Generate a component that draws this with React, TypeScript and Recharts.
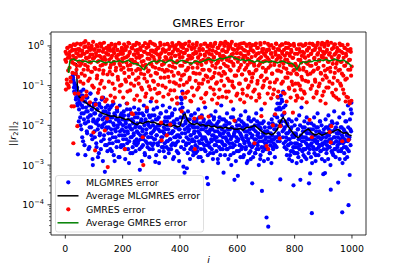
import React from "react";
import { ComposedChart, Scatter, XAxis, YAxis, ReferenceLine } from "recharts";

const W = 407;
const H = 271;

// log10 of the MLGMRES residual norm; even iterations (i = 2k) and odd iterations (i = 2k + 1)
const MLGMRES_EVEN: (number | null)[] = [
  null, null, null, null, null, null, null, null, null, null, null, null, null, -0.75, -0.85, -1.05, -0.95, -1.2, -1.0, -1.3, -1.1, -1.45, -2.73, -1.25, -1.6,
  -1.35, -1.8, -1.15, -2.1, -1.5, -1.25, -2.4, -1.7, -1.4, -1.95, -2.75, -1.55, -1.3, -2.2, -1.65, -1.9, -1.45, -2.55, -1.75, -1.2, -2.05, -1.6, -2.35, -3.0, -1.85,
  -1.5, -2.15, -1.7, -1.35, -2.45, -1.9, -1.6, -2.8, -2.0, -1.45, -2.25, -1.75, -2.6, -1.55, -2.05, -1.85, -1.3, -2.35, -1.95, -3.17, -1.65, -2.1, -2.5, -1.8, -1.5,
  -2.2, -1.7, -2.45, -1.9, -1.55, -2.1, -2.65, -1.8, -2.3, -1.45, -2.0, -2.9, -1.75, -2.15, -2.4, -1.6, -2.05, -1.85, -2.8, -2.25, -1.5, -1.95, -2.55, -1.7, -2.1,
  -1.8, -2.35, -1.65, -2.15, -2.6, -1.9, -2.05, -1.45, -2.45, -2.2, -1.75, -2.95, -2.0, -1.6, -2.3, -2.1, -1.85, -2.7, -1.95, -2.25, -1.55, -2.4, -2.05, -1.7, -2.5,
  -2.15, -1.8, -2.4, -1.6, -2.05, -3.12, -2.25, -1.9, -2.55, -1.7, -2.1, -2.35, -1.5, -2.0, -2.75, -1.85, -2.2, -1.65, -2.45, -1.95, -2.3, -1.75, -2.6, -2.05, -1.4,
  -2.2, -1.75, -2.5, -2.0, -1.6, -2.35, -2.1, -2.92, -1.85, -2.25, -1.55, -2.45, -2.0, -1.8, -2.65, -2.15, -1.7, -2.4, -1.95, -2.3, -1.5, -2.55, -2.05, -1.9, -2.8,
  -2.1, -1.65, -2.4, -2.0, -1.8, -2.6, -2.2, -1.55, -2.35, -1.95, -2.5, -1.75, -2.15, -2.85, -1.9, -2.3, -1.6, -2.05, -2.45, -1.85, -2.25, -1.45, -2.7, -2.1, -1.95,
  -2.3, -1.8, -2.55, -1.35, -1.15, -2.0, -3.04, -1.7, -3.19, -2.2, -1.9, -2.45, -3.08, -2.05, -1.65, -2.35, -2.1, -1.85, -2.6, -2.25, -1.75, -2.4, -2.0, -2.75, -1.9,
  -2.15, -1.7, -2.5, -2.3, -1.85, -2.65, -2.05, -1.6, -2.4, -2.2, -1.95, -2.8, -2.1, -1.75, -2.45, -2.3, -1.9, -2.6, -2.0, -1.55, -2.35, -2.15, -3.32, -2.5, -3.48,
  -2.2, -1.9, -2.55, -2.1, -1.75, -2.4, -2.25, -2.0, -2.7, -1.85, -2.35, -2.15, -1.65, -2.5, -2.3, -1.95, -2.85, -2.05, -2.4, -1.8, -2.25, -2.6, -1.5, -2.1, -2.45,
  -2.3, -3.19, -1.85, -2.15, -2.5, -2.0, -2.35, -1.7, -2.6, -2.2, -1.95, -2.45, -2.1, -2.75, -1.8, -2.3, -2.05, -2.55, -1.6, -2.25, -3.37, -2.15, -1.9, -2.4, -2.65,
  -2.1, -3.27, -2.35, -1.85, -2.5, -2.2, -1.75, -2.6, -2.3, -2.05, -2.8, -1.95, -2.4, -2.15, -1.65, -2.55, -2.25, -2.0, -2.9, -2.35, -1.8, -2.45, -2.1, -2.65, -1.9,
  -2.3, -3.46, -2.05, -2.5, -1.85, -2.35, -2.7, -2.15, -1.7, -2.45, -2.25, -2.0, -2.6, -2.3, -1.95, -2.85, -2.1, -1.6, -3.65, -2.4, -2.2, -1.9, -2.55, -2.05, -2.35,
  -2.45, -4.32, -2.15, -2.6, -4.55, -1.95, -2.3, -2.7, -2.05, -2.4, -1.85, -2.25, -2.55, -2.0, -2.35, -1.75, -2.5, -2.1, -1.6, -2.3, -1.45, -1.3, -2.2, -1.55, -2.4,
  -3.36, -1.25, -1.9, -1.4, -2.15, -1.15, -2.45, -1.7, -2.05, -1.5, -2.3, -2.6, -1.95, -2.2, -2.5, -1.85, -2.35, -2.75, -2.1, -2.45, -1.9, -2.25, -2.65, -3.51, -2.3,
  -2.0, -2.55, -2.2, -1.85, -2.45, -2.7, -2.1, -2.35, -1.75, -2.5, -3.37, -2.25, -1.55, -2.4, -2.05, -2.6, -2.3, -1.9, -2.8, -2.15, -2.45, -1.8, -2.35, -2.55, -2.1,
  -3.46, -2.2, -3.21, -2.5, -1.95, -4.21, -2.35, -2.1, -2.6, -1.8, -2.4, -2.25, -2.75, -2.05, -2.45, -1.7, -2.3, -2.55, -2.15, -1.9, -2.65, -2.35, -2.0, -2.5, -2.2,
  -3.23, -2.1, -2.45, -3.2, -1.85, -2.3, -2.6, -2.05, -2.4, -1.75, -2.25, -2.55, -2.0, -3.62, -2.35, -1.9, -2.7, -2.15, -2.45, -1.65, -2.3, -2.6, -2.05, -2.4, -1.95,
  -2.5, -3.44, -2.2, -1.8, -2.45, -2.35, -2.65, -2.05, -4.19, -2.3, -1.7, -2.55, -2.15, -2.85, -2.4, -1.9, -2.25, -2.6, -1.5, -4.01, -2.35, -3.25, -2.1, -1.6, -1.43,
];
const MLGMRES_ODD: (number | null)[] = [
  null, null, null, null, null, null, null, null, null, null, null, null, null, -0.8, -0.9, -1.15, -1.0, -0.7, -1.35, -1.2, -1.05, -1.5, -1.3, -1.9, -1.4,
  -1.45, -2.0, -1.25, -1.7, -2.3, -1.55, -1.1, -1.85, -2.5, -1.4, -1.95, -1.65, -2.15, -1.3, -1.8, -2.6, -1.5, -2.05, -1.2, -1.75, -2.25, -1.6, -2.85, -1.9, -1.45,
  -1.7, -2.3, -1.45, -1.95, -2.55, -1.6, -2.1, -1.85, -2.7, -1.5, -2.2, -1.75, -2.4, -1.35, -2.0, -2.9, -1.65, -2.25, -1.8, -2.5, -1.55, -2.05, -1.9, -2.65, -1.7,
  -2.05, -1.6, -2.35, -2.6, -1.8, -2.2, -1.5, -2.45, -1.95, -2.75, -1.7, -2.1, -2.3, -1.85, -2.55, -1.65, -2.0, -2.4, -1.9, -2.8, -2.15, -1.75, -2.5, -2.25, -1.85,
  -2.0, -2.5, -1.75, -2.25, -2.85, -1.95, -2.35, -1.6, -2.15, -2.6, -1.85, -2.4, -2.05, -2.7, -1.7, -2.3, -2.1, -2.55, -1.9, -2.2, -2.45, -1.8, -2.65, -2.0, -2.35,
  -1.95, -2.45, -2.2, -1.7, -2.6, -2.05, -2.35, -1.85, -2.9, -2.15, -2.5, -1.75, -2.25, -2.7, -1.9, -2.4, -2.1, -1.6, -2.55, -2.3, -2.0, -2.8, -1.8, -2.45, -2.2,
  -2.3, -1.9, -2.6, -2.15, -2.45, -1.75, -2.35, -2.05, -2.75, -2.25, -1.85, -2.5, -2.1, -2.95, -2.0, -2.4, -1.7, -2.3, -2.55, -2.15, -1.95, -2.65, -2.2, -2.45, -1.8,
  -2.25, -2.55, -1.9, -2.4, -2.1, -2.7, -1.8, -2.35, -2.0, -2.6, -2.2, -1.7, -2.45, -2.15, -2.8, -1.95, -2.5, -2.3, -2.05, -2.65, -1.85, -2.4, -2.25, -2.9, -2.1,
  -1.6, -1.3, -1.45, -2.2, -1.55, -2.4, -1.8, -2.6, -2.1, -1.95, -2.5, -2.3, -1.85, -2.7, -2.15, -2.45, -2.0, -2.85, -2.25, -1.75, -2.55, -2.35, -2.05, -2.65, -2.2,
  -2.4, -2.05, -2.7, -1.9, -2.3, -2.55, -2.15, -2.8, -1.8, -2.45, -2.25, -2.6, -2.0, -2.35, -2.9, -2.1, -1.85, -2.5, -2.3, -2.65, -2.05, -2.4, -1.95, -2.75, -2.2,
  -2.45, -2.15, -2.7, -1.95, -2.35, -2.6, -2.1, -2.85, -2.25, -1.8, -2.5, -2.3, -2.0, -2.65, -2.4, -2.15, -2.95, -1.9, -2.55, -2.2, -2.75, -2.05, -2.4, -1.85, -2.6,
  -2.2, -2.5, -2.0, -2.75, -2.3, -1.9, -2.6, -2.4, -2.1, -2.85, -2.25, -1.95, -2.55, -2.35, -3.0, -2.05, -2.45, -1.8, -2.7, -2.2, -2.5, -2.1, -2.9, -2.3, -2.0,
  -2.4, -2.15, -2.65, -2.0, -2.5, -2.8, -2.25, -1.9, -2.55, -2.35, -2.1, -2.75, -2.45, -2.0, -2.6, -2.3, -2.95, -2.15, -2.4, -1.85, -2.7, -2.5, -2.2, -2.85, -2.05,
  -2.55, -2.25, -2.8, -2.1, -2.45, -2.0, -2.7, -2.35, -2.6, -1.9, -2.5, -2.2, -3.0, -2.4, -2.05, -2.75, -2.3, -2.55, -1.95, -2.65, -2.25, -2.9, -2.15, -2.45, -2.6,
  -2.3, -2.6, -2.15, -2.85, -2.4, -2.05, -2.7, -2.5, -2.2, -2.95, -2.35, -1.95, -2.6, -2.45, -2.1, -2.8, -2.3, -2.0, -2.55, -1.8, -2.4, -1.6, -2.25, -1.9, -1.45,
  -1.6, -2.0, -1.35, -1.75, -2.3, -1.55, -2.1, -2.55, -1.9, -2.4, -2.2, -2.75, -2.0, -2.5, -2.35, -2.85, -2.15, -2.45, -2.65, -2.05, -2.9, -2.3, -2.55, -2.2, -2.7,
  -2.45, -2.7, -2.25, -2.95, -2.55, -2.1, -2.8, -2.35, -2.6, -2.0, -2.5, -2.9, -2.3, -2.65, -2.15, -2.75, -2.4, -2.05, -2.6, -2.3, -2.85, -2.2, -2.5, -1.95, -2.7,
  -2.35, -2.6, -2.1, -2.8, -2.45, -2.95, -2.25, -2.55, -2.0, -2.7, -2.35, -2.9, -2.15, -2.6, -2.4, -2.05, -2.75, -2.3, -2.5, -1.9, -2.65, -2.2, -2.85, -2.45, -2.3,
  -2.6, -2.2, -2.9, -2.4, -2.05, -2.7, -2.5, -2.25, -2.85, -2.1, -2.55, -2.35, -3.0, -2.15, -2.65, -2.45, -1.95, -2.75, -2.3, -2.6, -2.1, -2.8, -2.4, -2.2, -2.55,
  -2.3, -2.65, -2.15, -2.85, -2.4, -2.05, -2.6, -2.25, -2.95, -2.45, -2.1, -2.7, -2.35, -1.9, -2.55, -2.2, -2.8, -2.4, -2.05, -2.65, -2.3, -1.85, -2.5, -2.15, -1.7,
];

// log10 of the GMRES residual norm; even and odd iterations
const GMRES_EVEN: number[] = [
  -0.35, -1.1, -0.2, -0.95, -0.05, -0.62, -1.05, -0.28, -0.15, -0.8, -0.02, -1.52, -0.42, -0.1, -2.45, -1.52, -0.33, 0.02, -0.7, -0.18, -0.5, -2.02, -0.08, -1.2, -0.25,
  -0.12, -0.9, 0.05, -0.45, -1.35, -0.2, -1.3, -0.6, -0.03, -0.75, 0.12, -0.3, -1.15, -0.15, -0.52, -0.88, -0.05, -0.4, -1.42, -0.22, -0.65, 0.0, -1.0, -0.32, -2.18,
  -0.1, -0.55, -2.63, -1.48, -0.25, -0.82, -0.02, -1.18, -0.38, -0.6, -0.12, -0.95, -0.28, 0.04, -1.3, -0.48, -0.7, -0.08, -1.05, -2.13, -0.35, -0.18, -1.35, -1.83, -3.05,
  -0.22, -0.9, -0.05, -0.55, -1.25, -0.3, 0.03, -0.72, -1.4, -0.15, -0.45, -1.08, -0.02, -0.62, -0.26, -1.55, -0.1, -0.85, -0.36, 0.06, -1.15, -0.5, -0.2, -0.98, -0.08,
  -0.4, -1.3, -0.12, -0.68, -2.6, -0.03, -0.9, -0.28, -1.45, -0.5, 0.08, -0.78, -0.18, -1.12, -0.35, -0.6, -1.7, -0.06, -1.72, -0.42, -1.0, -0.22, 0.02, -0.85, -0.3,
  -1.25, -0.1, -0.58, -0.95, -0.25, -1.38, -0.04, -0.7, -0.4, -1.1, -2.3, -3.0, -0.15, -0.82, 0.07, -0.48, -1.2, -1.55, -0.2, -0.65, -0.02, -1.02, -0.33, 0.1, -0.75,
  -0.45, -1.32, -0.12, -0.88, -0.28, 0.04, -1.08, -0.55, -0.18, -1.4, -0.7, -0.05, -0.98, -0.38, -1.18, -0.22, 0.02, -1.93, -2.38, -0.6, -0.1, -1.28, -0.45, -0.8, -0.15,
  -1.05, -0.3, -2.25, 0.05, -0.62, -1.22, -0.08, -0.9, -1.98, -0.35, -0.2, -1.35, -0.52, 0.0, -0.75, -1.12, -0.25, -0.05, -0.95, -0.42, -1.45, -0.12, -0.68, 0.08, -1.0,
  -0.3, -0.85, -0.02, -1.65, -0.5, -1.2, -0.18, -0.72, 0.04, -1.3, -0.4, -0.1, -0.92, -0.6, -1.15, -0.25, 0.1, -0.8, -1.38, -0.32, -0.05, -1.05, -0.55, -0.2, -1.25,
  -1.83, -2.6, -0.15, -0.7, 0.02, -1.1, -0.45, -0.28, -0.95, -0.06, -1.8, -0.38, -1.32, -1.8, -0.6, -0.1, -0.85, -1.42, -0.22, 0.06, -0.75, -1.18, -0.35, -0.02, -0.9,
  -1.78, -0.2, -0.62, -1.05, 0.0, -0.4, -1.35, -0.12, -0.78, -0.3, -1.22, 0.05, -0.55, -0.95, -0.18, -1.45, -0.42, -0.05, -0.7, -1.1, -0.25, 0.08, -0.88, -0.35, -1.28,
  -0.1, -0.65, -1.0, -0.28, 0.1, -0.5, -1.3, -0.15, -0.82, -0.02, -1.15, -0.38, -0.6, 0.04, -1.4, -0.22, -0.9, -0.08, -0.45, -1.05, -1.88, -0.3, 0.02, -0.75, -0.18,
  -1.2, -0.4, -0.05, -0.95, -0.55, -1.35, -0.2, 0.06, -0.72, -1.1, -0.32, -0.1, -1.42, -0.6, -0.25, -0.85, 0.03, -1.25, -0.48, -0.15, -1.0, -0.36, -0.7, -0.04, -1.3,
  -0.28, -0.8, -0.12, -1.15, -0.45, -2.45, 0.02, -0.62, -1.38, -0.2, -0.95, -0.05, -0.5, -1.22, -0.32, 0.07, -0.78, -1.77, -0.15, -1.05, -0.4, -0.08, -0.88, -1.45, -0.25,
  -0.6, -2.52, -0.1, -1.2, -2.6, -0.35, 0.0, -0.92, -0.5, -1.32, -0.18, -0.7, -2.0, -0.05, -1.1, -0.42, -1.72, -0.22, 0.05, -0.85, -1.28, -0.3, -0.62, -0.1, -2.33,
  -2.02, -0.4, -0.95, -0.15, 0.03, -1.18, -0.55, -1.68, -0.25, -0.8, -0.05, -1.4, -0.35, -0.68, 0.06, -1.05, -0.2, -0.48, -1.3, -0.1, -0.9, -0.3, -1.68, -0.62, 0.0,
  -1.12, -0.45, -1.38, -0.7, -1.25, -0.2, -0.95, -0.55, -0.08, -1.0, -0.35, 0.04, -0.78, -1.32, -0.15, -0.6, -1.15, -0.28, 0.02, -0.88, -0.42, -1.42, -0.12, -0.72, -0.25,
  -0.05, -1.86, -0.5, -1.08, -0.2, -2.3, 0.05, -0.65, -1.3, -0.32, -0.1, -0.9, -0.45, -1.2, 0.02, -0.58, -0.18, -1.02, -0.38, -0.06, -1.38, -0.7, -0.25, 0.08, -0.85,
  -0.3, -1.15, -0.02, -0.62, -1.45, -0.15, -0.8, 0.1, -0.4, -1.05, -0.22, -2.17, -0.55, -2.43, -2.02, -0.08, -0.95, -0.35, -1.25, 0.03, -0.68, -0.2, -1.1, -0.45, -0.05,
  -0.88, -0.3, -1.35, -0.12, -0.6, 0.02, -1.0, -0.4, -2.4, -0.18, -0.75, -1.2, -0.05, -0.5, -1.4, -0.25, -0.82, -0.1, -1.3, -2.37, -0.35, -1.45, -0.6, -0.15, -1.38,
];
const GMRES_ODD: number[] = [
  -0.15, -0.4, -0.85, -0.05, -0.3, -1.0, -0.22, -0.55, 0.0, -0.9, -0.35, -0.12, -0.68, -0.25, 0.04, -0.45, -1.2, -0.1, -0.3, -0.6, 0.06, -0.2, -0.78, -0.4, -0.08,
  -0.5, 0.03, -0.25, -0.7, -0.12, -0.38, -0.95, 0.08, -0.2, -0.48, -0.02, -1.25, -0.32, -0.15, -0.6, 0.05, -0.28, -0.82, -0.1, -0.42, -0.05, -0.65, -0.22, 0.1, -1.05,
  -0.3, -0.08, -0.58, -0.18, 0.02, -0.75, -0.4, -0.12, -1.1, -0.25, 0.06, -0.5, -0.02, -0.88, -0.35, -0.15, -0.62, 0.08, -0.28, -1.4, -0.45, -0.05, -0.2, -0.72, -0.1,
  0.0, -0.35, -0.65, -0.12, -0.48, 0.05, -0.25, -0.95, -0.08, -0.4, -0.18, -1.3, 0.03, -0.55, -0.3, -0.1, -0.78, -0.22, 0.07, -0.45, -1.0, -0.15, -0.6, -0.05, -0.32,
  -0.2, -0.55, 0.04, -0.3, -0.85, -0.1, -0.42, -0.02, -1.15, -0.25, -0.6, 0.06, -0.15, -0.48, -0.95, -0.05, -0.35, -0.7, 0.02, -0.22, -1.35, -0.4, -0.12, -0.62, 0.08,
  -0.45, -0.18, -0.8, 0.05, -0.3, -0.6, -0.1, -1.05, -0.25, -0.5, 0.0, -0.38, -0.72, -0.15, -1.28, -0.55, -0.05, -0.9, -0.32, 0.04, -0.62, -0.2, -0.45, -1.1, -0.12,
  -0.25, 0.06, -0.52, -0.15, -0.9, -0.35, 0.02, -0.68, -0.1, -0.42, -1.2, -0.22, -0.05, -0.58, -0.3, 0.08, -0.8, -0.18, -0.48, -1.0, -0.08, -0.38, 0.03, -0.65, -0.28,
  -0.12, -0.6, -0.35, 0.04, -0.78, -0.2, -0.5, -0.02, -1.12, -0.3, -0.65, 0.07, -0.15, -0.42, -0.92, -0.08, -0.55, -0.25, 0.02, -1.3, -0.38, -0.1, -0.7, -0.22, 0.05,
  -0.5, -0.15, 0.03, -0.75, -0.28, -0.05, -0.98, -0.4, -0.18, 0.06, -0.62, -1.18, -0.1, -0.35, -0.55, 0.0, -0.85, -0.25, -0.45, -1.4, -0.08, -0.3, 0.04, -0.68, -0.2,
  -0.05, -0.4, -0.88, -0.18, 0.08, -0.55, -0.3, -1.05, -0.12, -0.7, -0.22, 0.02, -0.48, -0.95, -0.08, -0.35, -0.6, 0.05, -0.25, -1.22, -0.42, -0.15, -0.78, 0.0, -0.32,
  -0.6, -0.1, -0.35, 0.05, -0.82, -0.22, -0.5, -0.02, -1.1, -0.28, -0.68, 0.08, -0.15, -0.45, -0.92, -0.05, -0.38, -1.3, -0.2, 0.02, -0.55, -0.3, -0.75, -0.12, 0.06,
  -0.25, -0.45, 0.0, -0.7, -0.15, -1.15, -0.35, 0.06, -0.52, -0.08, -0.88, -0.28, -0.02, -0.62, -0.4, 0.1, -1.0, -0.2, -0.5, -0.1, -0.75, -0.32, 0.03, -1.25, -0.18,
  -0.08, -0.62, -0.3, 0.04, -0.95, -0.18, -0.48, -0.05, -0.72, -1.2, -0.25, 0.07, -0.4, -0.12, -0.85, -0.55, 0.0, -0.32, -1.05, -0.2, -0.65, 0.05, -0.42, -0.1, -0.9,
  -0.4, 0.02, -0.7, -0.15, -0.5, -1.1, -0.25, 0.06, -0.6, -0.05, -0.88, -0.35, -0.18, -1.3, -0.45, 0.03, -0.28, -0.75, -0.08, -0.55, -1.0, -0.2, 0.08, -0.38, -0.65,
  -0.15, -0.82, -0.3, 0.05, -0.55, -0.1, -1.05, -0.4, -0.2, 0.02, -0.7, -0.28, -1.22, -0.05, -0.48, -0.92, -0.15, 0.06, -0.35, -0.62, -0.08, -1.15, -0.25, -0.5, 0.0,
  -0.3, -0.65, 0.04, -0.2, -0.9, -0.45, -0.1, -1.2, -0.35, 0.07, -0.58, -0.18, -0.8, -0.05, -0.42, -1.08, -0.25, 0.02, -0.7, -0.15, -0.5, -0.98, -0.3, 0.05, -0.6,
  -0.2, -0.95, -0.5, -0.08, -0.72, -1.3, -0.35, 0.03, -0.6, -0.15, -1.1, -0.42, -0.25, -0.85, 0.0, -0.55, -0.18, -1.2, -0.3, 0.05, -0.65, -0.1, -0.45, -0.9, -0.05,
  -0.38, 0.06, -0.7, -0.2, -0.5, -1.0, -0.12, 0.02, -0.62, -0.3, -0.85, -0.05, -0.45, -1.15, -0.22, 0.08, -0.55, -0.35, -0.95, -0.1, -0.68, 0.03, -0.28, -1.25, -0.15,
  -0.5, -0.2, 0.05, -0.75, -0.32, -1.05, -0.1, -0.58, 0.02, -0.4, -0.9, -0.18, -0.65, 0.08, -0.28, -1.18, -0.45, -0.05, -0.8, -0.22, 0.04, -0.55, -1.3, -0.15, -0.38,
  -0.1, -0.62, -0.25, 0.06, -0.95, -0.4, -0.15, -0.7, 0.02, -1.1, -0.3, -0.5, -0.05, -0.85, -0.2, -1.28, -0.42, 0.03, -0.6, -0.12, -1.4, -0.35, -0.08, -0.75, -0.52,
];

// running averages (iteration, log10 value)
const MLG_AVG_I = [
  38, 41, 44, 48, 55, 60, 70, 80, 90, 100, 110, 120, 130, 140, 150, 160, 170, 180, 190, 200,
  210, 220, 230, 240, 250, 260, 270, 280, 290, 300, 310, 320, 330, 340, 350, 360, 370, 380, 390, 400,
  405, 412, 418, 425, 432, 440, 450, 460, 470, 480, 490, 500, 510, 520, 530, 540, 550, 560, 570, 580,
  590, 600, 610, 620, 630, 640, 650, 660, 670, 680, 690, 700, 710, 720, 730, 740, 748, 755, 760, 767,
  775, 785, 795, 805, 813, 822, 830, 840, 848, 855, 862, 870, 877, 885, 895, 905, 915, 925, 935, 945,
  952, 960, 970, 980, 990, 999,
];
const MLG_AVG_LOG10 = [
  -0.43, -0.9, -1.15, -1.28, -1.32, -1.36, -1.42, -1.47, -1.52, -1.56, -1.62, -1.66, -1.7, -1.72, -1.75, -1.77, -1.76, -1.8, -1.79, -1.82,
  -1.85, -1.84, -1.9, -1.95, -1.98, -1.93, -1.96, -1.92, -1.9, -1.93, -1.92, -1.96, -1.98, -1.96, -2.0, -1.98, -2.02, -2.0, -2.04, -2.02,
  -1.9, -1.74, -1.72, -1.85, -1.92, -1.96, -1.98, -1.95, -2.0, -1.98, -2.02, -2.0, -2.04, -2.02, -2.06, -2.04, -2.07, -2.05, -2.08, -2.06,
  -2.1, -2.1, -2.08, -2.12, -2.06, -2.05, -2.04, -2.0, -2.06, -2.12, -2.18, -2.22, -2.2, -2.24, -2.19, -2.1, -1.95, -1.85, -1.8, -1.88,
  -2.0, -2.1, -2.2, -2.28, -2.31, -2.24, -2.18, -2.12, -2.09, -2.15, -2.2, -2.24, -2.23, -2.2, -2.25, -2.22, -2.18, -2.2, -2.15, -2.12,
  -2.1, -2.15, -2.2, -2.18, -2.24, -2.26,
];
const GM_AVG_I = [
  10, 12, 14, 16, 20, 30, 40, 50, 60, 70, 80, 90, 100, 110, 120, 130, 140, 150, 160, 170,
  180, 190, 200, 210, 220, 230, 240, 250, 260, 270, 275, 280, 290, 300, 310, 320, 330, 340, 350, 360,
  370, 380, 390, 400, 410, 420, 430, 440, 450, 460, 470, 480, 490, 500, 510, 520, 530, 540, 550, 560,
  570, 580, 590, 600, 610, 620, 630, 640, 650, 660, 670, 680, 690, 700, 710, 720, 730, 740, 750, 760,
  770, 780, 790, 800, 808, 815, 820, 830, 840, 850, 860, 870, 880, 890, 900, 910, 920, 930, 940, 950,
  960, 970, 980, 990, 999,
];
const GM_AVG_LOG10 = [
  -0.55, -0.68, -0.5, -0.38, -0.35, -0.33, -0.38, -0.36, -0.4, -0.38, -0.42, -0.4, -0.38, -0.41, -0.37, -0.4, -0.43, -0.4, -0.42, -0.38,
  -0.4, -0.37, -0.41, -0.39, -0.36, -0.42, -0.45, -0.45, -0.5, -0.58, -0.6, -0.52, -0.45, -0.4, -0.38, -0.41, -0.36, -0.39, -0.43, -0.38,
  -0.35, -0.4, -0.44, -0.38, -0.36, -0.4, -0.42, -0.45, -0.4, -0.38, -0.42, -0.39, -0.36, -0.33, -0.35, -0.38, -0.34, -0.31, -0.33, -0.3,
  -0.28, -0.26, -0.3, -0.33, -0.36, -0.34, -0.38, -0.35, -0.38, -0.41, -0.37, -0.4, -0.42, -0.39, -0.41, -0.38, -0.4, -0.43, -0.4, -0.38,
  -0.42, -0.45, -0.43, -0.5, -0.6, -0.5, -0.44, -0.4, -0.42, -0.38, -0.4, -0.36, -0.38, -0.35, -0.37, -0.34, -0.38, -0.36, -0.33, -0.36,
  -0.38, -0.35, -0.4, -0.45, -0.52,
];

const X_TICKS = [0, 200, 400, 600, 800, 1000];
const Y_MAJOR = [1e-4, 1e-3, 1e-2, 1e-1, 1];
const Y_EXP = ["\u22124", "\u22123", "\u22122", "\u22121", "0"];
const MINOR_MULT = [2, 3, 4, 5, 6, 7, 8, 9];
const X_DOMAIN = [-49.95, 1048.95];
const Y_DOMAIN = [Math.pow(10, -4.76), Math.pow(10, 0.35)];

const LEGEND = [
  { kind: "dot", color: "#0000ff", label: "MLGMRES error" },
  { kind: "line", color: "#000000", label: "Average MLGMRES error" },
  { kind: "dot", color: "#ff0000", label: "GMRES error" },
  { kind: "line", color: "#008000", label: "Average GMRES error" },
];

const FONT = "'DejaVu Sans', sans-serif";
const FS = 9.4;

const scatterPts = (even: (number | null)[], odd: (number | null)[]) => {
  const out: { i: number; v: number }[] = [];
  even.forEach((v, k) => {
    if (v != null) out.push({ i: 2 * k, v: Math.pow(10, v) });
    const w = odd[k];
    if (w != null) out.push({ i: 2 * k + 1, v: Math.pow(10, w) });
  });
  return out;
};

const linePts = (xs: number[], ys: number[]) =>
  xs.map((x, k) => ({ i: x, v: Math.pow(10, ys[k]) }));

const mlgData = scatterPts(MLGMRES_EVEN, MLGMRES_ODD);
const gmData = scatterPts(GMRES_EVEN, GMRES_ODD);
const mlgAvg = linePts(MLG_AVG_I, MLG_AVG_LOG10);
const gmAvg = linePts(GM_AVG_I, GM_AVG_LOG10);

const yTicks: number[] = [...Y_MAJOR];
for (let d = -5; d <= 0; d++) {
  for (const m of MINOR_MULT) {
    const t = m * Math.pow(10, d);
    if (t > Y_DOMAIN[0] && t < Y_DOMAIN[1]) yTicks.push(t);
  }
}

function dotShape(color: string) {
  return (p: any) => <circle cx={p.cx} cy={p.cy} r={2.1} fill={color} />;
}
const noMarker = () => <g />;

function YTick(props: any) {
  const { x, y, payload } = props;
  const v = payload.value;
  const idx = Y_MAJOR.findIndex((m) => Math.abs(m - v) / m < 1e-6);
  if (idx < 0) {
    return <line x1={x} x2={x - 2} y1={y} y2={y} stroke="#000" strokeWidth={0.6} />;
  }
  return (
    <g>
      <line x1={x} x2={x - 3.5} y1={y} y2={y} stroke="#000" strokeWidth={0.8} />
      <text x={x - 7} y={y + 3.5} textAnchor="end" fontSize={FS} fontFamily={FONT} fill="#000">
        <tspan>10</tspan>
        <tspan dy={-4.4} fontSize={6.6}>{Y_EXP[idx]}</tspan>
      </text>
    </g>
  );
}

function XTick(props: any) {
  const { x, y, payload } = props;
  return (
    <g>
      <line x1={x} x2={x} y1={y} y2={y + 3.5} stroke="#000" strokeWidth={0.8} />
      <text x={x} y={y + 17.3} textAnchor="middle" fontSize={FS} fontFamily={FONT} fill="#000">
        {payload.value}
      </text>
    </g>
  );
}

function Overlay() {
  return (
    <svg width={W} height={H} style={{ position: "absolute", left: 0, top: 0, pointerEvents: "none" }}>
      <text x={208.5} y={26.5} textAnchor="middle" fontSize={11.3} fontFamily={FONT} fill="#000">
        GMRES Error
      </text>
      <text x={208.5} y={263.3} textAnchor="middle" fontSize={FS} fontFamily={FONT} fontStyle="italic" fill="#000">
        i
      </text>
      <text transform="translate(15.5,133.5) rotate(-90)" textAnchor="middle" fontSize={FS} fontFamily={FONT} fill="#000">
        <tspan>||</tspan>
        <tspan fontStyle="italic">r</tspan>
        <tspan fontSize={6.6} dy={2.4}>2</tspan>
        <tspan dy={-2.4}>||</tspan>
        <tspan fontSize={6.6} dy={2.4}>2</tspan>
      </text>
      <g>
        <rect x={55.5} y={175.5} width={148} height={56.5} rx={2.5} fill="#ffffff" fillOpacity={0.8} stroke="#cccccc" strokeOpacity={0.8} strokeWidth={0.8} />
        {LEGEND.map((e, k) => {
          const cy = 182.3 + k * 13.5;
          return (
            <g key={e.label}>
              {e.kind === "dot" ? (
                <circle cx={68.3} cy={cy} r={2.1} fill={e.color} />
              ) : (
                <line x1={57.5} x2={78.5} y1={cy} y2={cy} stroke={e.color} strokeWidth={1.5} />
              )}
              <text x={86} y={cy + 3.4} fontSize={FS} fontFamily={FONT} fill="#000">
                {e.label}
              </text>
            </g>
          );
        })}
      </g>
    </svg>
  );
}

export default function App() {
  return (
    <div style={{ position: "absolute", left: 0, top: 0, width: W, height: H, background: "#fff" }}>
      <ComposedChart width={W} height={H} margin={{ top: 32, right: 41, bottom: 0, left: 0 }}>
        <XAxis
          dataKey="i"
          type="number"
          domain={X_DOMAIN}
          allowDataOverflow
          ticks={X_TICKS}
          interval={0}
          height={36}
          tickLine={false}
          tickSize={0}
          tickMargin={0}
          tick={<XTick />}
          axisLine={{ stroke: "#000", strokeWidth: 0.8 }}
        />
        <YAxis
          dataKey="v"
          scale="log"
          type="number"
          domain={Y_DOMAIN}
          allowDataOverflow
          ticks={yTicks}
          interval={0}
          width={51}
          tickLine={false}
          tickSize={0}
          tickMargin={0}
          tick={<YTick />}
          axisLine={{ stroke: "#000", strokeWidth: 0.8 }}
        />
        <Scatter data={mlgData} dataKey="v" fill="#0000ff" shape={dotShape("#0000ff")} isAnimationActive={false} />
        <Scatter
          data={mlgAvg}
          dataKey="v"
          line={{ stroke: "#000000", strokeWidth: 1.5 }}
          lineType="joint"
          shape={noMarker}
          isAnimationActive={false}
        />
        <Scatter data={gmData} dataKey="v" fill="#ff0000" shape={dotShape("#ff0000")} isAnimationActive={false} />
        <Scatter
          data={gmAvg}
          dataKey="v"
          line={{ stroke: "#008000", strokeWidth: 1.5 }}
          lineType="joint"
          shape={noMarker}
          isAnimationActive={false}
        />
        <ReferenceLine y={Y_DOMAIN[1]} stroke="#000" strokeWidth={0.8} ifOverflow="visible" />
        <ReferenceLine x={X_DOMAIN[1]} stroke="#000" strokeWidth={0.8} ifOverflow="visible" />
      </ComposedChart>
      <Overlay />
    </div>
  );
}
